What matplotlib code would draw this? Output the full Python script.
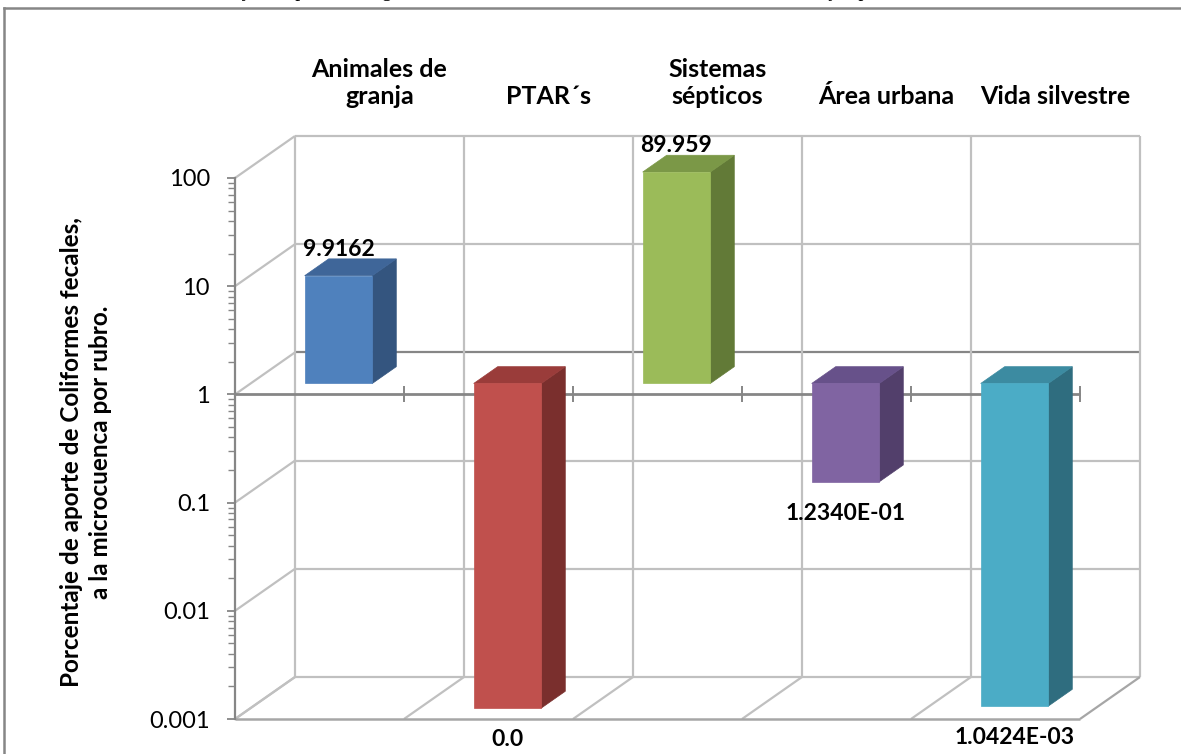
import matplotlib
matplotlib.use("Agg")
import matplotlib.pyplot as plt
from matplotlib.lines import Line2D
from matplotlib.patches import Polygon
from matplotlib.transforms import IdentityTransform
from matplotlib.ticker import FixedLocator, FuncFormatter, LogLocator, NullFormatter

plt.rcParams['font.family'] = ['Lato', 'DejaVu Sans']

# ---- data -------------------------------------------------------------
categories = ["Animales de\ngranja", "PTAR´s", "Sistemas\nsépticos",
              "Área urbana", "Vida silvestre"]
values = [9.9162, 0.0, 89.959, 0.1234, 0.0010424]
value_formats = ["{:.4f}", "{:.1f}", "{:.3f}", "{:.4E}", "{:.4E}"]
y_ticks = [0.001, 0.01, 0.1, 1, 10, 100]
y_tick_labels = ["0.001", "0.01", "0.1", "1", "10", "100"]
y_title = "Porcentaje de aporte de Coliformes fecales,\na la microcuenca por rubro."
caption = ("Gráfica 4. Porcentaje de aporte de organismos coliformes fecales "
           "en la microcuenca del arroyo, por rubro.")

# ---- style --------------------------------------------------------------
face_colors = ["#4F81BD", "#C0504D", "#9BBB59", "#8064A2", "#4BACC6"]
side_colors = ["#34557F", "#7A2F2D", "#627A37", "#523F6B", "#2F6D7F"]
top_colors = ["#3F6699", "#9A3C3A", "#7B9847", "#67518A", "#3C8BA1"]
GRID = "#C0C0C0"
AXIS = "#868686"
DEPTH_DX, DEPTH_DY = 60.0, 42.0       # wall depth in pixels
BAR_D0, BAR_D1 = 0.26, 0.66           # bar depth span (fraction of wall depth)
BAR_X0, BAR_W = 0.32, 0.40            # bar placement inside a category slot
BASE = 1.0                            # value where the category axis crosses
YMIN, YMAX = 0.001, 100

W, H = 1181, 754
fig = plt.figure(figsize=(W / 100, H / 100), dpi=100)
fig.patch.set_facecolor("white")
ax = fig.add_axes([235 / W, 35 / H, 845 / W, 541 / H])
ax.set_xlim(0, len(categories))
ax.set_yscale("log")
ax.set_ylim(YMIN, YMAX)
ax.set_autoscale_on(False)
ax.patch.set_visible(False)
for s in ("top", "right", "bottom"):
    ax.spines[s].set_visible(False)
ax.spines["left"].set_color(AXIS)
ax.spines["left"].set_linewidth(1.6)
ax.set_xticks([])
ax.yaxis.set_major_locator(FixedLocator(y_ticks))
ax.yaxis.set_major_formatter(FuncFormatter(lambda v, p: y_tick_labels[y_ticks.index(v)]
                                           if v in y_ticks else ""))
ax.yaxis.set_minor_locator(LogLocator(base=10, subs=range(2, 10)))
ax.yaxis.set_minor_formatter(NullFormatter())
ax.tick_params(axis="y", which="major", length=6, width=1.3, color=AXIS,
               labelsize=17, pad=12, labelcolor="black")
ax.tick_params(axis="y", which="minor", length=5, width=1.0, color=AXIS)

ID = IdentityTransform()


def pt(x, v, d):
    """Display position of data point (x, v) pushed back by depth fraction d."""
    X, Y = ax.transData.transform((x, v))
    return X + DEPTH_DX * d, Y + DEPTH_DY * d


def seg(p1, p2, color, lw, z):
    ax.add_line(Line2D([p1[0], p2[0]], [p1[1], p2[1]], transform=ID, color=color,
                       lw=lw, zorder=z, clip_on=False, solid_capstyle="butt"))


n = len(categories)
# back wall and left wall grid
for v in y_ticks:
    col = AXIS if v == BASE else GRID
    seg(pt(0, v, 1), pt(n, v, 1), col, 1.6, 1)
    seg(pt(0, v, 0), pt(0, v, 1), GRID, 1.6, 1)
for k in range(n + 1):
    seg(pt(k, YMIN, 1), pt(k, YMAX, 1), GRID, 1.6, 1)
    # floor
    seg(pt(k, YMIN, 0), pt(k, YMIN, 1), "#A6A6A6" if k == n else GRID, 1.6, 1)
seg(pt(0, YMIN, 0), pt(n, YMIN, 0), "#A6A6A6", 1.8, 1)

# category axis at the crossing value
seg(pt(0, BASE, 0), pt(n, BASE, 0), AXIS, 2.0, 2)
for k in range(1, n + 1):
    X, Y = pt(k, BASE, 0)
    seg((X, Y - 8), (X, Y + 8), AXIS, 1.4, 2)

# 3-D columns
for i, v in enumerate(values):
    vv = max(v, YMIN)
    lo, hi = min(vv, BASE), max(vv, BASE)
    x0, x1 = i + BAR_X0, i + BAR_X0 + BAR_W
    front = [pt(x0, lo, BAR_D0), pt(x1, lo, BAR_D0), pt(x1, hi, BAR_D0), pt(x0, hi, BAR_D0)]
    side = [pt(x1, lo, BAR_D0), pt(x1, lo, BAR_D1), pt(x1, hi, BAR_D1), pt(x1, hi, BAR_D0)]
    top = [pt(x0, hi, BAR_D0), pt(x1, hi, BAR_D0), pt(x1, hi, BAR_D1), pt(x0, hi, BAR_D1)]
    for poly, col in ((side, side_colors[i]), (top, top_colors[i]), (front, face_colors[i])):
        ax.add_patch(Polygon(poly, closed=True, transform=ID, facecolor=col,
                             edgecolor=col, lw=0.5, zorder=3, clip_on=False))
    xc = i + BAR_X0 + BAR_W / 2
    label = value_formats[i].format(v)
    if v >= BASE:
        X = pt(xc, vv, BAR_D0)[0]
        Y = pt(xc, vv, BAR_D1)[1] + 3
    else:
        X, Y = pt(xc, vv, BAR_D0)
        Y -= 38
    ax.text(X, Y, label, transform=ID, ha="center", va="baseline",
            fontsize=16.5, fontweight="bold", color="black", zorder=4, clip_on=False)

# category names above the back wall
for k, name in enumerate(categories):
    X, Y = pt(k + 0.5, YMAX, 1)
    ax.text(X, Y + 28, name, transform=ID, ha="center", va="bottom",
            fontsize=18, fontweight="bold", linespacing=1.2, zorder=4, clip_on=False)

# value-axis title
fig.text(86 / W, (H - 452) / H, y_title, rotation=90, ha="center", va="center",
         fontsize=17.5, fontweight="bold", linespacing=1.3, multialignment="center")

# chart frame
fig.add_artist(Line2D([3.5 / W, 3.5 / W], [-0.01, (H - 7.5) / H], transform=fig.transFigure,
                      color=AXIS, lw=1.8))
fig.add_artist(Line2D([3.5 / W, 1.01], [(H - 7.5) / H, (H - 7.5) / H],
                      transform=fig.transFigure, color=AXIS, lw=1.8))

# caption of the page (only its lower edge is inside the frame)
fig.text(87 / W, (H + 4) / H, caption, ha="left", va="baseline",
         fontsize=14.5, family="Liberation Serif", color="black")

fig.savefig("out.png", dpi=100)
